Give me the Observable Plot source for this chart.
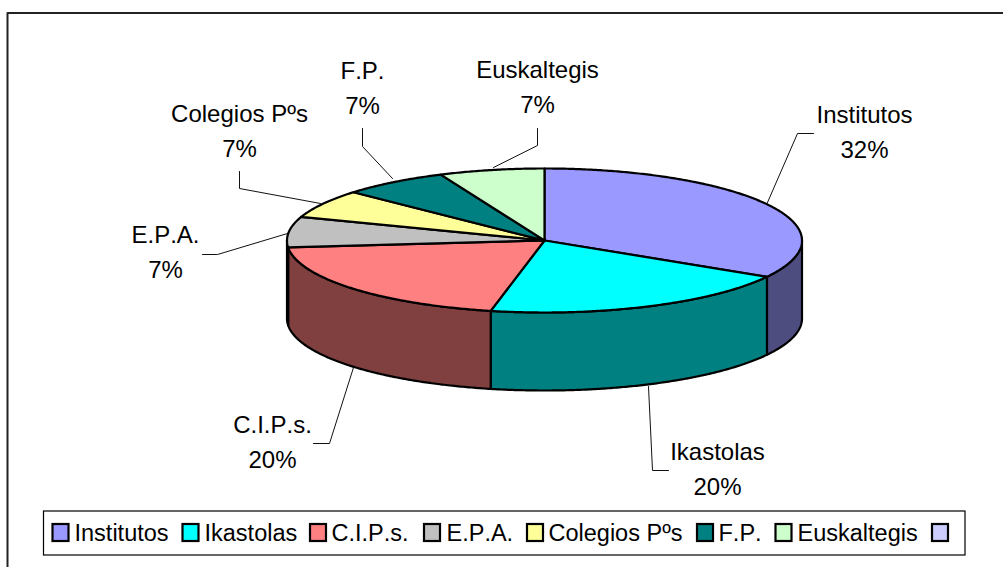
<!DOCTYPE html>
<html>
<head>
<meta charset="utf-8">
<style>html,body{margin:0;padding:0;background:#fff;overflow:hidden}svg{display:block}svg text{font-kerning:none}</style>
<script src="https://cdn.jsdelivr.net/npm/d3@7"></script>
<script src="https://cdn.jsdelivr.net/npm/@observablehq/plot@0.6"></script>
</head>
<body>
<div id="chart"></div>
<script>
// Data
const categories = ["Institutos", "Ikastolas", "C.I.P.s.", "E.P.A.", "Colegios Pºs", "F.P.", "Euskaltegis", ""];
const shares = [33.4, 19.95, 20.15, 6.8, 6.4, 6.7, 6.6, 0];
const percentLabels = ["32%", "20%", "20%", "7%", "7%", "7%", "7%", ""];
const topColors = ["#9999ff", "#00ffff", "#ff8080", "#c0c0c0", "#ffff99", "#008080", "#ccffcc", "#ccccff"];
const wallColors = ["#4d4d80", "#008080", "#804040", "#606060", "#808050", "#004040", "#668066", "#666680"];

// Layout (page units)
const pie = {cx: 544, cy: 240, rx: 257.5, ry: 72, depth: 78};
const labelCenters = [[864, 122], [717, 459.5], [272, 432], [165, 242], [239, 121], [362, 78], [537, 77]];
const lineGap = 35;
const leaders = [
  [[767, 202], [797, 133], [813, 133]],
  [[648, 386], [652, 470], [668, 470]],
  [[353, 367], [329, 443], [313, 443]],
  [[287, 233], [217, 254], [202, 254]],
  [[320, 203], [239, 188], [239, 171]],
  [[392, 178], [362, 146], [362, 128]],
  [[493, 167], [537, 145], [537, 128]]
];
const legendBox = {x1: 43.5, x2: 965, y1: 511, y2: 555};
const swatchX = [52.5, 182.5, 310, 424, 527, 697, 775.5, 932];
const legendTextX = [74, 204, 331, 446, 548, 718, 797];

const pt = (deg, dz = 0) => {
  const t = deg * Math.PI / 180;
  return {x: pie.cx + pie.rx * Math.sin(t), y: pie.cy - pie.ry * Math.cos(t) + dz};
};
const arc = (a0, a1, dz = 0) => {
  const n = Math.max(1, Math.ceil(Math.abs(a1 - a0) * 2));
  return d3.range(n + 1).map(i => pt(a0 + (a1 - a0) * i / n, dz));
};

const total = d3.sum(shares);
let run = 0;
const slices = shares.map((v, i) => {
  const a0 = run; run += v / total * 360;
  return {i, a0, a1: run};
}).filter(s => s.a1 > s.a0);

const wallRows = [], topRows = [];
for (const s of slices) {
  const w0 = Math.max(s.a0, 90), w1 = Math.min(s.a1, 270);
  if (w1 > w0) {
    const poly = [...arc(w0, w1), ...arc(w1, w0, pie.depth)];
    poly.push(poly[0]);
    poly.forEach(p => wallRows.push({...p, id: "w" + s.i, color: wallColors[s.i]}));
  }
  const poly = [{x: pie.cx, y: pie.cy}, ...arc(s.a0, s.a1), {x: pie.cx, y: pie.cy}];
  poly.forEach(p => topRows.push({...p, id: "t" + s.i, color: topColors[s.i]}));
}

const labelRows = labelCenters.flatMap(([x, y], i) => [
  {x, y, text: categories[i]},
  {x, y: y + lineGap, text: percentLabels[i]}
]);
const leaderRows = leaders.flatMap((l, i) => l.map(([x, y]) => ({x, y, id: i})));
const swatchRows = categories.map((c, i) => ({x1: swatchX[i], x2: swatchX[i] + 16, y1: 524, y2: 541, color: topColors[i]}));
const legendTextRows = legendTextX.map((x, i) => ({x, y: 540.5, text: categories[i]}));

const fontSize = 24, legendFont = 23.5;
const chart = Plot.plot({
  width: 1003, height: 567,
  margin: 0,
  x: {domain: [0, 1003], range: [0, 1003], axis: null},
  y: {domain: [0, 567], range: [0, 567], axis: null},
  color: {type: "identity"},
  style: {background: "#fff", fontFamily: "Liberation Sans, Arial, sans-serif", color: "#000"},
  marks: [
    Plot.line([{x: 1003, y: 12.5}, {x: 7, y: 12.5}, {x: 7, y: 567}], {x: "x", y: "y", stroke: "#222", strokeWidth: 2}),
    Plot.line(leaderRows, {x: "x", y: "y", z: "id", stroke: "#111", strokeWidth: 1}),
    Plot.line(wallRows, {x: "x", y: "y", z: "id", fill: "color", stroke: "#000", strokeWidth: 2.2}),
    Plot.line(topRows, {x: "x", y: "y", z: "id", fill: "color", stroke: "#000", strokeWidth: 2.2}),
    Plot.text(labelRows, {x: "x", y: "y", text: "text", fontSize, dy: -0.32 * fontSize, fill: "#000"}),
    Plot.rect([legendBox], {x1: "x1", x2: "x2", y1: "y1", y2: "y2", fill: "#fff", stroke: "#000", strokeWidth: 1.2}),
    Plot.rect(swatchRows, {x1: "x1", x2: "x2", y1: "y1", y2: "y2", fill: "color", stroke: "#000", strokeWidth: 2.2}),
    Plot.text(legendTextRows, {x: "x", y: "y", text: "text", fontSize: legendFont, dy: -0.32 * legendFont, textAnchor: "start", fill: "#000"})
  ]
});
document.getElementById("chart").appendChild(chart);
</script>
</body>
</html>
